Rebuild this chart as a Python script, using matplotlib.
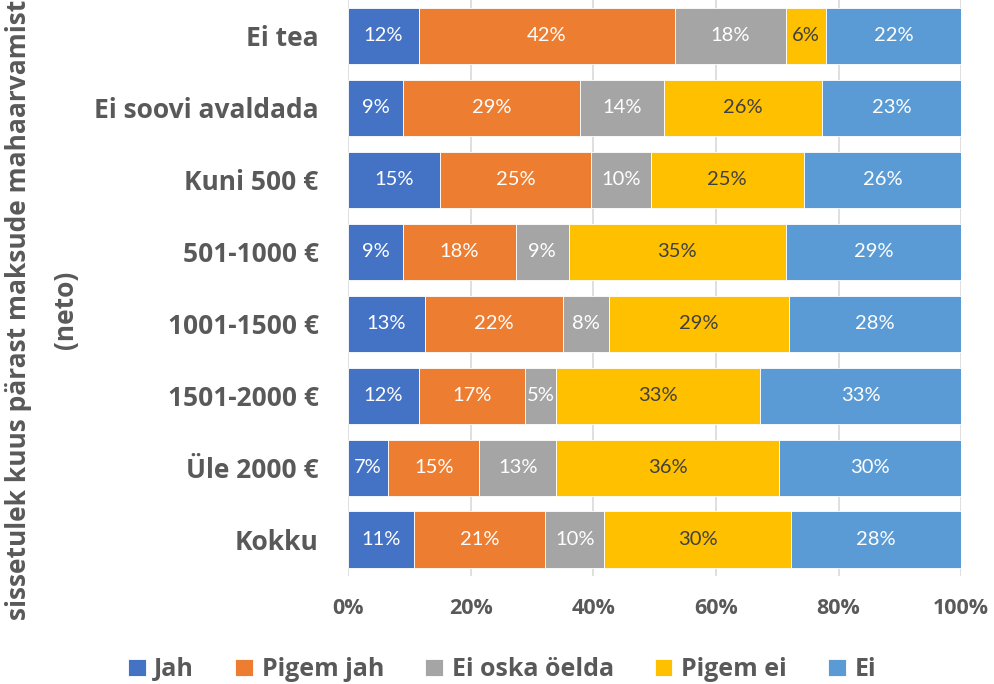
import matplotlib.pyplot as plt
import numpy as np

categories = ['Ei tea', 'Ei soovi avaldada', 'Kuni 500 €', '501-1000 €',
              '1001-1500 €', '1501-2000 €', 'Üle 2000 €', 'Kokku']
series = ['Jah', 'Pigem jah', 'Ei oska öelda', 'Pigem ei', 'Ei']
jah = [11.6, 9.0, 15.0, 9.0, 12.6, 11.6, 6.6, 10.8]
pigem_jah = [41.7, 28.9, 24.6, 18.4, 22.4, 17.2, 14.8, 21.4]
ei_oska = [18.2, 13.7, 9.8, 8.6, 7.6, 5.2, 12.6, 9.6]
pigem_ei = [6.4, 25.7, 24.9, 35.4, 29.3, 33.2, 36.3, 30.4]
ei = [22.1, 22.7, 25.7, 28.6, 28.1, 32.8, 29.7, 27.8]
colors = ['#4472C4', '#ED7D31', '#A5A5A5', '#FFC000', '#5B9BD5']
label_colors = ['white', 'white', 'white', '#404040', 'white']
xticks = [0, 20, 40, 60, 80, 100]

data = [jah, pigem_jah, ei_oska, pigem_ei, ei]
gray = '#595959'

fig = plt.figure(figsize=(9.94, 6.84), dpi=100)
ax = fig.add_axes([0.350, 0.158, 0.617, 0.842])

y = np.arange(len(categories))
left = np.zeros(len(categories))
for vals, name, col, lc in zip(data, series, colors, label_colors):
    vals = np.array(vals)
    bars = ax.barh(y, vals, left=left, height=0.79, color=col, label=name,
                   edgecolor='white', linewidth=0.6, zorder=3)
    for b, v in zip(bars, vals):
        ax.text(b.get_x() + b.get_width() / 2, b.get_y() + b.get_height() / 2,
                f'{v:.0f}%', ha='center', va='center', color=lc,
                fontsize=14.5, family='Lato', zorder=4)
    left += vals

ax.set_xlim(0, 100)
ax.set_ylim(len(categories) - 0.5, -0.5)
ax.set_yticks(y)
ax.set_yticklabels(categories, fontsize=19, fontweight='bold', color=gray,
                   family='Open Sans')
ax.set_xticks(xticks)
ax.set_xticklabels([f'{t}%' for t in xticks], fontsize=15.5, fontweight='bold',
                   color=gray, family='Open Sans')
ax.tick_params(axis='x', length=0, pad=16)
ax.tick_params(axis='y', length=0, pad=21)
ax.xaxis.grid(True, color='#D9D9D9', linewidth=1.2, zorder=0)
for s in ax.spines.values():
    s.set_visible(False)

fig.text(0.019, 0.547, 'sissetulek kuus pärast maksude mahaarvamist', rotation=90,
         ha='center', va='center', fontsize=19, fontweight='bold', color=gray,
         family='Open Sans')
fig.text(0.066, 0.547, '(neto)', rotation=90, ha='center', va='center',
         fontsize=19, fontweight='bold', color=gray, family='Open Sans')

fig.legend(loc='lower center', bbox_to_anchor=(0.505, -0.03), ncol=5, frameon=False,
           prop={'family': 'Open Sans', 'weight': 'bold', 'size': 18},
           labelcolor=gray, handlelength=0.7, handleheight=0.7,
           handletextpad=0.35, columnspacing=1.65)

fig.savefig('out.png', dpi=100)
